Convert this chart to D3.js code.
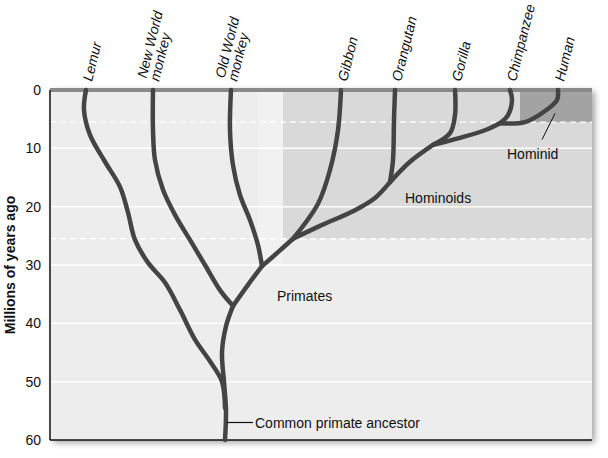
<!DOCTYPE html>
<html lang="en">
<head>
<meta charset="UTF-8">
<script src="https://d3js.org/d3.v7.min.js"></script>
<style>
  body { margin: 0; background: #fff; }
  text { font-family: "Liberation Sans", Arial, sans-serif; fill: #111; }
</style>
</head>
<body>
<script>
// tick labels on the time axis (millions of years ago)
const yTicks = [0, 10, 20, 30, 40, 50, 60];
// species at the tips, with horizontal slot and label lines
const species = ["Lemur", "New World monkey", "Old World monkey", "Gibbon", "Orangutan", "Gorilla", "Chimpanzee", "Human"];
const labelLines = [["Lemur"], ["New World", "monkey"], ["Old World", "monkey"], ["Gibbon"], ["Orangutan"], ["Gorilla"], ["Chimpanzee"], ["Human"]];
const tipPos = [36, 103, 181, 291, 345, 405, 460, 508];
// branch waypoints: [position, millions of years ago]
const branches = [
  [[175, 60], [176, 55], [174, 50], [172, 45], [176, 40.5], [183, 37]],                       // trunk
  [[175, 54.5], [172, 50], [160, 46.5], [145, 42.8], [130, 37.7], [115, 33], [98, 29.6], [85, 25.7], [78, 21], [70, 16.6], [55, 12.3], [40, 7.7], [34, 3.4], [36, 0]], // lemur
  [[183, 37], [170, 34.3], [155, 30], [140, 25.7], [125, 21.4], [113, 17.1], [105, 12], [103, 6.9], [103, 0]], // new world
  [[183, 37], [198, 33.4], [212, 30.2]],                                                     // to old world node
  [[212, 30.2], [208, 26.6], [200, 22.3], [190, 18], [183, 12.9], [180, 6.9], [181, 0]],    // old world
  [[212, 30.2], [228, 27.8], [243, 25.5]],                                                   // to gibbon node
  [[243, 25.5], [268, 19.5], [280, 13.7], [288, 6.9], [291, 0]],                             // gibbon
  [[243, 25.5], [270, 23.3], [305, 20.6], [325, 18.5], [340, 15.8]],                         // to orangutan node
  [[340, 15.8], [343, 12], [344, 5.1], [345, 0]],                                            // orangutan
  [[340, 15.8], [360, 12.3], [383, 9.4]],                                                    // to gorilla node
  [[383, 9.4], [400, 7.4], [405, 4.3], [405, 0]],                                            // gorilla
  [[383, 9.4], [410, 8.2], [435, 6.9], [450, 5.7]],                                          // to chimp node
  [[450, 5.7], [458, 4.3], [462, 1.7], [460, 0]],                                            // chimpanzee
  [[450, 5.7], [475, 5.5], [495, 3.6], [507, 1.7], [508, 0]]                                 // human
];

const width = 608, height = 458;
const margin = { top: 90, right: 16, bottom: 18, left: 50 };

const x = d3.scaleLinear().domain([0, 542]).range([margin.left, width - margin.right]);
const y = d3.scaleLinear().domain([0, 60]).range([margin.top, height - margin.bottom]);

const svg = d3.select("body").append("svg").attr("width", width).attr("height", height);

const defs = svg.append("defs");
defs.append("filter").attr("id", "shadow").attr("x", "-5%").attr("y", "-5%").attr("width", "115%").attr("height", "115%")
  .append("feDropShadow").attr("dx", 3).attr("dy", 3).attr("stdDeviation", 3).attr("flood-color", "#000").attr("flood-opacity", 0.35);

// plot background
svg.append("rect")
  .attr("x", x(0)).attr("y", y(0) - 2)
  .attr("width", x(542) - x(0)).attr("height", y(60) - y(0) + 2)
  .attr("rx", 4).attr("fill", "#ededed").attr("filter", "url(#shadow)");

// shaded zones
svg.append("rect").attr("x", x(208)).attr("y", y(0)).attr("width", x(233) - x(208)).attr("height", y(30.2) - y(0)).attr("fill", "#f1f1f1");
svg.append("rect").attr("x", x(233)).attr("y", y(0)).attr("width", x(542) - x(233)).attr("height", y(25.5) - y(0)).attr("fill", "#d9d9d9");
svg.append("rect").attr("x", x(470)).attr("y", y(0)).attr("width", x(542) - x(470)).attr("height", y(5.5) - y(0)).attr("fill", "#a3a3a3");
svg.append("rect").attr("x", x(0)).attr("y", y(0) - 2).attr("width", x(542) - x(0)).attr("height", 4).attr("fill", "#8a8a8a");

// gridlines
svg.append("g").selectAll("line").data(yTicks.filter(d => d > 0 && d < 60)).join("line")
  .attr("x1", x(0)).attr("x2", x(542)).attr("y1", d => y(d)).attr("y2", d => y(d))
  .attr("stroke", "#fff").attr("stroke-width", 1.5);
svg.append("g").selectAll("line").data([5.5, 25.5]).join("line")
  .attr("x1", x(0)).attr("x2", x(542)).attr("y1", d => y(d)).attr("y2", d => y(d))
  .attr("stroke", "#fff").attr("stroke-width", 1.3).attr("stroke-dasharray", "6,4");

// axes frame
svg.append("line").attr("x1", x(0)).attr("x2", x(0)).attr("y1", y(0)).attr("y2", y(60)).attr("stroke", "#111").attr("stroke-width", 1.5);
svg.append("line").attr("x1", x(0)).attr("x2", x(542)).attr("y1", y(60)).attr("y2", y(60)).attr("stroke", "#111").attr("stroke-width", 1.5);

svg.append("g").selectAll("text").data(yTicks).join("text")
  .attr("x", 41).attr("y", d => y(d) + 5).attr("text-anchor", "end").attr("font-size", 14).text(d => d);

svg.append("text").attr("transform", `translate(15,${(y(0) + y(60)) / 2}) rotate(-90)`)
  .attr("text-anchor", "middle").attr("font-size", 14).attr("font-weight", "bold").text("Millions of years ago");

// tree branches
const line = d3.line().x(d => x(d[0])).y(d => y(d[1])).curve(d3.curveCatmullRom.alpha(0.5));
svg.append("g").selectAll("path").data(branches).join("path")
  .attr("d", line).attr("fill", "none").attr("stroke", "#444").attr("stroke-width", 4.5).attr("stroke-linecap", "round");

// species labels
const lab = svg.append("g").selectAll("text").data(species).join("text")
  .attr("transform", (d, i) => `translate(${x(tipPos[i]) + 6},${y(0) - 8}) rotate(-76)`)
  .attr("font-size", 14).attr("font-style", "italic");
lab.selectAll("tspan").data((d, i) => labelLines[i]).join("tspan")
  .attr("x", 0).attr("dy", (d, j, n) => j === 0 ? -(n.length - 1) * 13 : 13)
  .text(d => d);

// annotations
svg.append("text").attr("x", x(457)).attr("y", y(11.8)).attr("font-size", 14).text("Hominid");
svg.append("line").attr("x1", x(492)).attr("y1", y(8.5)).attr("x2", x(505)).attr("y2", y(4)).attr("stroke", "#111").attr("stroke-width", 1);
svg.append("text").attr("x", x(355)).attr("y", y(19.4)).attr("font-size", 14).text("Hominoids");
svg.append("text").attr("x", x(227)).attr("y", y(36.2)).attr("font-size", 14).text("Primates");
svg.append("line").attr("x1", x(177)).attr("y1", y(57)).attr("x2", x(203)).attr("y2", y(57)).attr("stroke", "#111").attr("stroke-width", 1.2);
svg.append("text").attr("x", x(205)).attr("y", y(57) + 5).attr("font-size", 14).text("Common primate ancestor");
</script>
</body>
</html>
